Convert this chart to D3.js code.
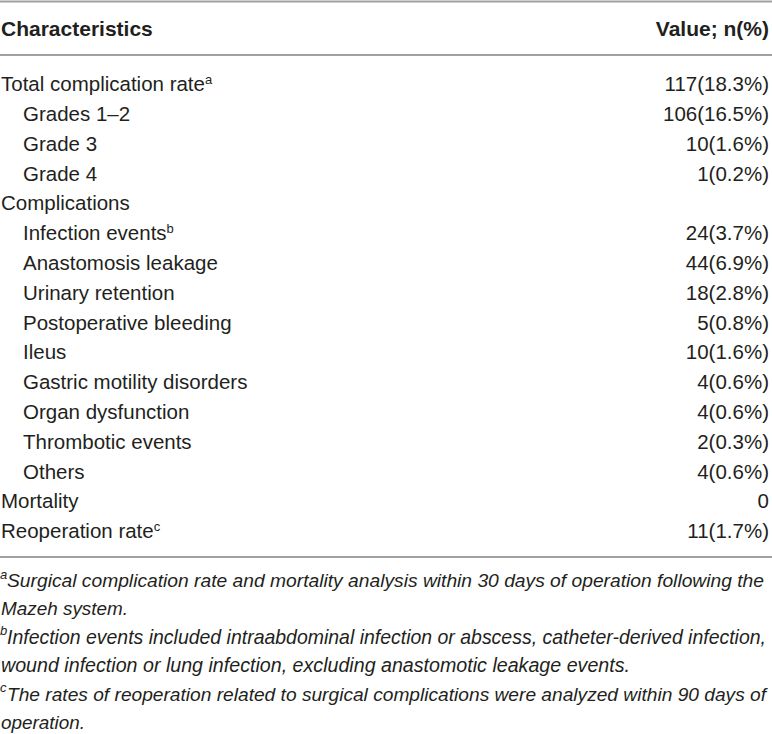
<!DOCTYPE html>
<html><head><meta charset="utf-8">
<script src="https://cdn.jsdelivr.net/npm/d3@7/dist/d3.min.js"></script>
<style>
html,body{margin:0;padding:0;background:#fff;}
svg{display:block;}
text{font-family:"Liberation Sans","Helvetica",Arial,sans-serif;fill:#231f20;}
.foot{font-family:"Liberation Sans Narrow","Liberation Sans",Arial,sans-serif;}
</style></head>
<body>
<svg id="chart" width="772" height="734"></svg>
<script>
const headers = ["Characteristics", "Value; n(%)"];
const labels = ["Total complication rate","Grades 1–2","Grade 3","Grade 4","Complications","Infection events","Anastomosis leakage","Urinary retention","Postoperative bleeding","Ileus","Gastric motility disorders","Organ dysfunction","Thrombotic events","Others","Mortality","Reoperation rate"];
const indents = [0,1,1,1,0,1,1,1,1,1,1,1,1,1,0,0];
const sups = ["a","","","","","b","","","","","","","","","","c"];
const values = ["117(18.3%)","106(16.5%)","10(1.6%)","1(0.2%)","","24(3.7%)","44(6.9%)","18(2.8%)","5(0.8%)","10(1.6%)","4(0.6%)","4(0.6%)","2(0.3%)","4(0.6%)","0","11(1.7%)"];
const footSups = ["a","","b","","c",""];
const footLines = [
 "Surgical complication rate and mortality analysis within 30 days of operation following the",
 "Mazeh system.",
 "Infection events included intraabdominal infection or abscess, catheter-derived infection,",
 "wound infection or lung infection, excluding anastomotic leakage events.",
 "The rates of reoperation related to surgical complications were analyzed within 90 days of",
 "operation."
];
const footEnds = [764, 128, 766, 630, 766, 85];

const svg = d3.select("#chart");
const W = 772;
const lineColor = "#a0a0a0";
const fs = 20.5;

const y = d3.scalePoint().domain(d3.range(labels.length)).range([84, 84 + 29.8*(labels.length-1)]);
const fy = d3.scalePoint().domain(d3.range(footLines.length)).range([580, 580 + 28.4*(footLines.length-1)]);

// rules
[1.5, 55, 557].forEach(yy => svg.append("line").attr("x1",0).attr("x2",W).attr("y1",yy).attr("y2",yy)
  .attr("stroke",lineColor).attr("stroke-width",2));

// header
svg.append("text").attr("x",1).attr("y",29).attr("dy","0.35em").attr("font-size",21).attr("font-weight","bold").text(headers[0]);
svg.append("text").attr("x",769).attr("y",29).attr("dy","0.35em").attr("font-size",21).attr("font-weight","bold").attr("text-anchor","end").text(headers[1]);

const rows = svg.append("g").selectAll("g").data(labels).join("g");
rows.each(function(d,i){
  const g = d3.select(this);
  const t = g.append("text").attr("x", indents[i] ? 23 : 1).attr("y", y(i)).attr("dy","0.35em").attr("font-size",fs);
  t.append("tspan").text(d);
  if (sups[i]) t.append("tspan").attr("font-size",13).attr("dy",-7).text(sups[i]);
  if (values[i]) g.append("text").attr("x",769).attr("y",y(i)).attr("dy","0.35em").attr("font-size",fs).attr("text-anchor","end").text(values[i]);
});

const fg = svg.append("g");
footLines.forEach((d,i) => {
  let x0 = 1;
  if (footSups[i]) {
    fg.append("text").attr("class","foot").attr("x",0).attr("y",fy(i)).attr("dy",-1.5)
      .attr("font-size",13).attr("font-style","italic").text(footSups[i]);
    x0 = 7;
  }
  const t = fg.append("text").attr("class","foot").attr("x",x0).attr("y",fy(i)).attr("dy",7)
    .attr("font-size",20).attr("font-style","italic").text(d);
  const target = footEnds[i]-x0;
  const natural = t.node().getComputedTextLength();
  if (natural > target) t.attr("font-size", 20*target/natural);
  t.attr("textLength", target).attr("lengthAdjust","spacingAndGlyphs");
});
</script>
</body></html>
